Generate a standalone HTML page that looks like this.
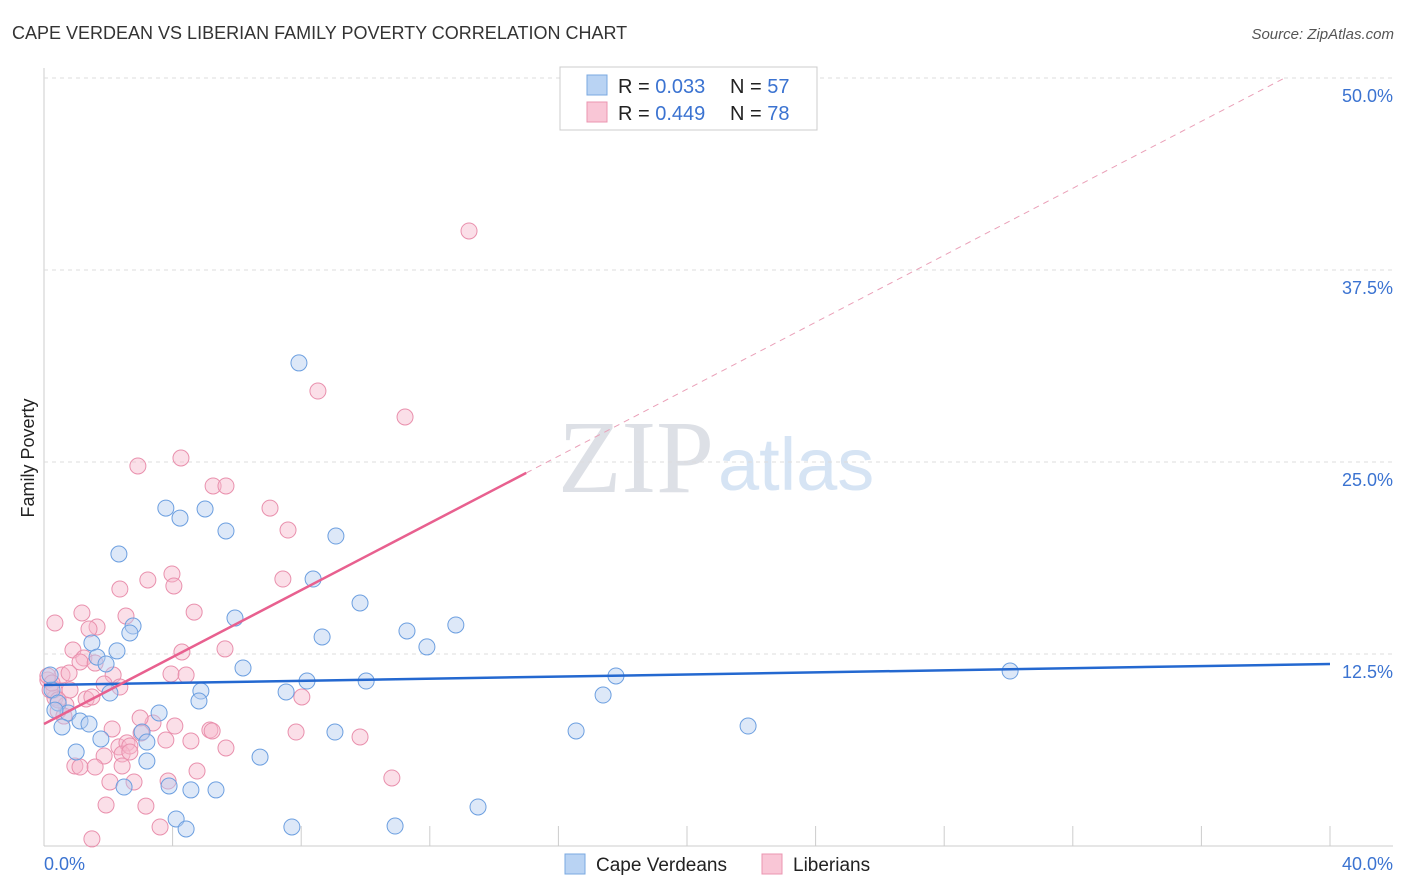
<!DOCTYPE html>
<html><head><meta charset="utf-8">
<style>
body{margin:0;background:#fff;font-family:"Liberation Sans",sans-serif;}
#wrap{position:relative;width:1406px;height:892px;overflow:hidden;}
</style></head>
<body>
<div id="wrap">
<svg id="svg" width="1406" height="892" xmlns="http://www.w3.org/2000/svg">
<text x="12" y="39" font-size="18" fill="#333">CAPE VERDEAN VS LIBERIAN FAMILY POVERTY CORRELATION CHART</text>
<text x="1394" y="39" font-size="15" fill="#555" font-style="italic" text-anchor="end">Source: ZipAtlas.com</text>
<text x="34" y="458" font-size="18" fill="#222" transform="rotate(-90 34 458)" text-anchor="middle">Family Poverty</text>
<text x="714" y="492" font-size="104" fill="#dde0e6" text-anchor="end" font-family="Liberation Serif,serif">ZIP</text>
<text x="718" y="490" font-size="74" fill="#d6e4f4">atlas</text>
<g id="grid"></g><g id="marks"></g>
<rect x="560" y="67" width="257" height="63" fill="#fff" stroke="#ccc"/>
<rect x="587" y="75" width="20" height="20" fill="#b9d3f3" stroke="#7aa8e0"/>
<rect x="587" y="102" width="20" height="20" fill="#f9c6d6" stroke="#eb95b0"/>
<text x="618" y="93" font-size="20" fill="#222">R = <tspan fill="#3b73d1">0.033</tspan></text>
<text x="730" y="93" font-size="20" fill="#222">N = <tspan fill="#3b73d1">57</tspan></text>
<text x="618" y="120" font-size="20" fill="#222">R = <tspan fill="#3b73d1">0.449</tspan></text>
<text x="730" y="120" font-size="20" fill="#222">N = <tspan fill="#3b73d1">78</tspan></text>
<rect x="565" y="854" width="20" height="20" fill="#b9d3f3" stroke="#7aa8e0"/>
<text x="596" y="871" font-size="19" fill="#222">Cape Verdeans</text>
<rect x="762" y="854" width="20" height="20" fill="#f9c6d6" stroke="#eb95b0"/>
<text x="793" y="871" font-size="19" fill="#222">Liberians</text>
</svg>
</div>
<script>
const blueX=[7.93,3.79,4.23,5.01,5.66,9.08,2.33,8.37,9.83,5.94,2.77,2.67,1.49,8.65,11.29,12.81,11.91,2.27,1.65,1.93,6.19,17.79,30.05,8.18,10.02,7.53,4.88,2.05,4.82,17.39,0.25,0.44,0.75,3.58,1.12,0.56,1.4,3.05,9.05,16.55,21.9,1.77,3.2,1.0,6.72,3.2,2.49,3.89,4.57,5.35,13.5,4.11,4.42,7.71,10.92,0.19,0.34];
const blueY=[31.45,22.0,21.35,21.94,20.51,20.18,19.01,17.38,15.82,14.84,14.32,13.87,13.22,13.61,14.0,14.39,12.96,12.7,12.3,11.85,11.59,11.07,11.39,10.74,10.74,10.03,10.09,9.96,9.44,9.83,10.16,9.31,8.66,8.66,8.14,7.75,7.94,7.42,7.42,7.49,7.81,6.97,6.77,6.12,5.79,5.53,3.84,3.91,3.65,3.65,2.54,1.76,1.11,1.24,1.3,11.13,8.85];
const pinkX=[13.22,8.52,11.23,2.92,4.26,5.26,5.66,7.03,7.59,3.98,3.23,7.43,4.04,2.36,4.67,1.18,2.55,0.34,1.65,1.4,4.29,5.63,0.9,1.24,1.12,1.59,0.56,0.78,2.15,3.95,4.42,0.12,0.31,1.87,2.36,1.31,8.02,1.49,0.34,0.68,0.44,3.39,2.99,4.07,2.12,3.02,5.16,5.23,7.84,9.83,4.57,3.79,2.33,2.58,5.66,1.87,2.43,2.67,0.96,1.12,1.59,2.43,4.76,3.86,10.82,2.05,2.8,1.93,3.17,3.61,1.49,0.12,0.19,0.62,0.25,2.67,0.44,0.81];
const pinkY=[40.04,29.62,27.93,24.74,25.26,23.44,23.44,22.0,20.57,17.71,17.32,17.38,16.93,16.73,15.23,15.17,14.97,14.52,14.26,14.13,12.63,12.83,12.76,12.24,11.98,11.91,11.13,11.26,11.13,11.2,11.13,10.81,10.16,10.55,10.35,9.57,9.7,9.7,9.64,9.18,8.79,8.01,8.33,7.81,7.62,7.36,7.55,7.49,7.42,7.1,6.84,6.9,6.45,6.71,6.38,5.86,5.99,6.51,5.21,5.14,5.14,5.21,4.88,4.23,4.43,4.17,4.17,2.67,2.6,1.24,0.46,11.07,10.16,8.46,10.61,6.12,9.51,10.16];
const yTicks=[12.5,25,37.5,50];
const yTickLabels=["12.5%","25.0%","37.5%","50.0%"];
const xTickVals=[4,8,12,16,20,24,28,32,36,40];
const blueTrend=[10.48,11.85];
const pinkTrend=[7.94,1.09];

const NS="http://www.w3.org/2000/svg";
const X=v=>44+v/40*1286;
const Y=v=>846-v*15.36;
function mk(tag,attrs,parent){const e=document.createElementNS(NS,tag);for(const k in attrs)e.setAttribute(k,attrs[k]);parent.appendChild(e);return e;}
const grid=document.getElementById('grid'),marks=document.getElementById('marks');
let e=mk('line',{x1:44,y1:68,x2:44,y2:846,stroke:'#ccc'},grid);


e=mk('line',{x1:44,y1:846,x2:1393,y2:846,stroke:'#ccc'},grid);


yTicks.forEach((t,i)=>{
 const g=mk('line',{x1:44,y1:Y(t),x2:1393,y2:Y(t),stroke:'#ddd','stroke-dasharray':'4,4'},grid);
 
 
 const l=mk('text',{x:1393,y:Y(t)+24,'font-size':18,fill:'#3b73d1','text-anchor':'end'},grid);
 l.textContent=yTickLabels[i];
 
 
});
xTickVals.forEach(t=>{
 const g=mk('line',{x1:X(t),y1:826,x2:X(t),y2:846,stroke:'#ccc'},grid);
 
 
});
e=mk('text',{x:44,y:870,'font-size':18,fill:'#3b73d1'},grid);e.textContent='0.0%';


e=mk('text',{x:1393,y:870,'font-size':18,fill:'#3b73d1','text-anchor':'end'},grid);e.textContent='40.0%';


function pts(xs,ys,fill,stroke,name){
 xs.forEach((v,i)=>{
  const c=mk('circle',{cx:X(v),cy:Y(ys[i]),r:8,fill:fill,'fill-opacity':0.45,stroke:stroke,'stroke-width':1},marks);
  
  
 });
}
pts(pinkX,pinkY,'#f6b8cb','#e990ad','liberian-point');
pts(blueX,blueY,'#b3cdf0','#6c9fe0','cape-verdean-point');
e=mk('line',{x1:X(0),y1:Y(blueTrend[0]),x2:X(40),y2:Y(blueTrend[1]),stroke:'#2468d0','stroke-width':2.5},marks);


e=mk('line',{x1:X(0),y1:Y(pinkTrend[0]),x2:X(15),y2:Y(pinkTrend[0]+pinkTrend[1]*15),stroke:'#e8608f','stroke-width':2.5},marks);


const xEnd=(50-pinkTrend[0])/pinkTrend[1];
e=mk('line',{x1:X(15),y1:Y(pinkTrend[0]+pinkTrend[1]*15),x2:X(xEnd),y2:Y(50),stroke:'#eaa0b8','stroke-width':1,'stroke-dasharray':'6,5'},marks);


</script>
</body></html>
